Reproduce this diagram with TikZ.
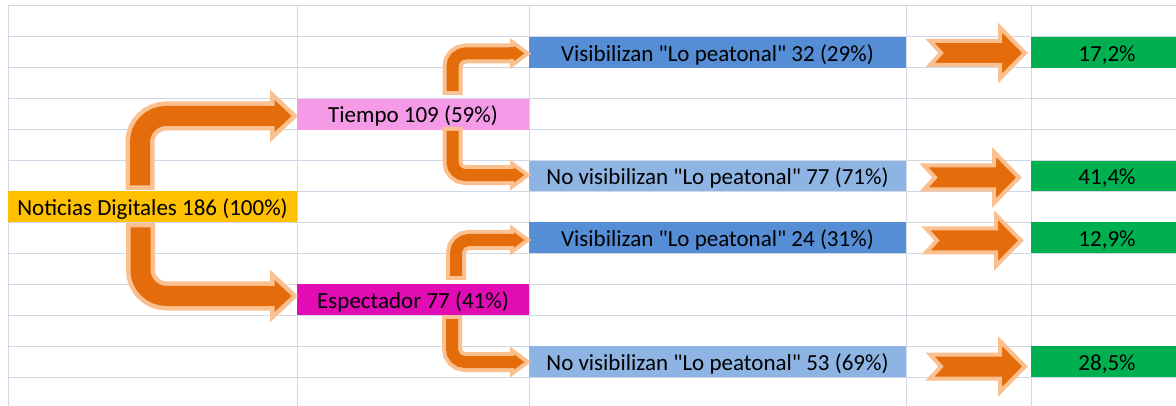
\documentclass[tikz,border=0pt]{standalone}
\usepackage{fontspec}
\setmainfont{Carlito}[Ligatures=TeXOff]
\usetikzlibrary{calc}
\definecolor{gridc}{HTML}{D0D7E5}
\definecolor{cyellow}{HTML}{FFC000}
\definecolor{cpink}{HTML}{F49AE6}
\definecolor{cmag}{HTML}{E20CB4}
\definecolor{cblue}{HTML}{558ED5}
\definecolor{clblue}{HTML}{8DB4E2}
\definecolor{cgreen}{HTML}{00B050}
\definecolor{alight}{HTML}{FAC090}
\definecolor{aorange}{HTML}{E46C0A}
\tikzset{
  gridl/.style={draw=gridc, line width=1pt},
  cell/.style={rectangle, inner sep=0pt, outer sep=0pt, minimum height=30.9pt, anchor=north west, draw=none},
  txt/.style={anchor=base, inner sep=0pt, font=\fontsize{23}{27}\selectfont, text=black},
  bigL/.style={draw=alight, line width=29pt, rounded corners=26pt},
  bigO/.style={draw=aorange, line width=20pt, rounded corners=26pt},
  smlL/.style={draw=alight, line width=20pt, rounded corners=13pt},
  smlO/.style={draw=aorange, line width=12pt, rounded corners=13pt},
  bighead/.pic={
    \filldraw[fill=alight, draw=alight, line width=9pt, line join=miter] (-23.5,-16) -- (-6.5,0) -- (-23.5,16) -- cycle;
    \fill[aorange] (-23.5,-16) -- (-6.5,0) -- (-23.5,16) -- cycle;
    \fill[aorange] (-29,-10) rectangle (-22,10);
  },
  smallhead/.pic={
    \filldraw[fill=alight, draw=alight, line width=8pt, line join=miter] (-17,-7.6) -- (-6.7,0) -- (-17,7.6) -- cycle;
    \fill[aorange] (-17,-7.6) -- (-6.7,0) -- (-17,7.6) -- cycle;
    \fill[aorange] (-22,-6) rectangle (-16,6);
  },
  notched/.pic={
    \filldraw[fill=aorange, draw=alight, line width=4pt, line join=miter]
      (-95,-12) -- (-25,-12) -- (-25,-25.5) -- (0,0) -- (-25,25.5) -- (-25,12) -- (-95,12) -- (-84,0) -- cycle;
  }
}
\begin{document}
\begin{tikzpicture}[x=1pt,y=-1pt]
\useasboundingbox (0,0) rectangle (1176,406);
\fill[white] (0,0) rectangle (1176,406);
% grid
\foreach \k in {0,...,12} \draw[gridl] (8,{6+30.92*\k}) -- (1176,{6+30.92*\k});
\foreach \xx in {8,297,529,906,1031} \draw[gridl] (\xx,6) -- (\xx,406);
% cells
\node[cell, fill=cyellow, minimum width=289pt] (noticias) at (8,191.5) {};
\node[cell, fill=cpink, minimum width=232pt] (tiempo) at (297,98.8) {};
\node[cell, fill=cmag, minimum width=232pt] (espect) at (297,284.3) {};
\node[cell, fill=cblue, minimum width=377pt] (vis1) at (529,36.9) {};
\node[cell, fill=clblue, minimum width=377pt] (novis1) at (529,160.6) {};
\node[cell, fill=cblue, minimum width=377pt] (vis2) at (529,222.4) {};
\node[cell, fill=clblue, minimum width=377pt] (novis2) at (529,346.1) {};
\node[cell, fill=cgreen, minimum width=145pt] (g1) at (1031,36.9) {};
\node[cell, fill=cgreen, minimum width=145pt] (g2) at (1031,160.6) {};
\node[cell, fill=cgreen, minimum width=145pt] (g3) at (1031,222.4) {};
\node[cell, fill=cgreen, minimum width=145pt] (g4) at (1031,346.1) {};
% texts
\node[txt] (tnot) at ($(noticias.south)+(0,-7)$) {Noticias Digitales 186 (100\%)};
\node[txt] (ttie) at ($(tiempo.south)+(0,-7)$) {Tiempo 109 (59\%)};
\node[txt] (tesp) at ($(espect.south)+(0,-7)$) {Espectador 77 (41\%)};
\node[txt] (tv1) at ($(vis1.south)+(0,-6.5)$) {Visibilizan "Lo peatonal" 32 (29\%)};
\node[txt] (tn1) at ($(novis1.south)+(0,-6.5)$) {No visibilizan "Lo peatonal" 77 (71\%)};
\node[txt] (tv2) at ($(vis2.south)+(0,-6.5)$) {Visibilizan "Lo peatonal" 24 (31\%)};
\node[txt] (tn2) at ($(novis2.south)+(0,-6.5)$) {No visibilizan "Lo peatonal" 53 (69\%)};
\node[txt] (tg1) at ($(g1.south west)+(76,-6.5)$) {17,2\%};
\node[txt] (tg2) at ($(g2.south west)+(76,-6.5)$) {41,4\%};
\node[txt] (tg3) at ($(g3.south west)+(76,-6.5)$) {12,9\%};
\node[txt] (tg4) at ($(g4.south west)+(76,-6.5)$) {28,5\%};
% big bent arrows
\coordinate (aTail) at ($(noticias.north)+(-12.5,-1.5)$);
\coordinate (aTip) at ($(tiempo.west)+(1,1.75)$);
\draw[bigL] (aTail) |- ($(aTip)+(-24,0)$);
\draw[bigO] ($(aTail)+(0,-4.5)$) |- ($(aTip)+(-22,0)$);
\pic at (aTip) {bighead};
\coordinate (bTail) at ($(noticias.south)+(-12,0.6)$);
\coordinate (bTip) at ($(espect.west)+(1,-3.75)$);
\draw[bigL] (bTail) |- ($(bTip)+(-24,0)$);
\draw[bigO] ($(bTail)+(0,4.5)$) |- ($(bTip)+(-22,0)$);
\pic at (bTip) {bighead};
% small bent arrows
\coordinate (s1Tail) at ($(tiempo.north)+(39.5,-3.8)$);
\coordinate (s1Tip) at ($(vis1.west)+(2,1.15)$);
\draw[smlL] (s1Tail) |- ($(s1Tip)+(-18,0)$);
\draw[smlO] ($(s1Tail)+(0,-4)$) |- ($(s1Tip)+(-16,0)$);
\pic at (s1Tip) {smallhead};
\coordinate (s2Tail) at ($(tiempo.south)+(39.5,-2.7)$);
\coordinate (s2Tip) at ($(novis1.west)+(2,-1)$);
\draw[smlL] (s2Tail) |- ($(s2Tip)+(-18,0)$);
\draw[smlO] ($(s2Tail)+(0,4)$) |- ($(s2Tip)+(-16,0)$);
\pic at (s2Tip) {smallhead};
\coordinate (s3Tail) at ($(espect.north)+(43,-4.3)$);
\coordinate (s3Tip) at ($(vis2.west)+(2,2.15)$);
\draw[smlL] (s3Tail) |- ($(s3Tip)+(-18,0)$);
\draw[smlO] ($(s3Tail)+(0,-4)$) |- ($(s3Tip)+(-16,0)$);
\pic at (s3Tip) {smallhead};
\coordinate (s4Tail) at ($(espect.south)+(39,-0.2)$);
\coordinate (s4Tip) at ($(novis2.west)+(2,0.45)$);
\draw[smlL] (s4Tail) |- ($(s4Tip)+(-18,0)$);
\draw[smlO] ($(s4Tail)+(0,4)$) |- ($(s4Tip)+(-16,0)$);
\pic at (s4Tip) {smallhead};
% notched arrows
\coordinate (n1Tip) at ($(g1.west)+(-6,0.65)$);
\coordinate (n2Tip) at ($(g2.west)+(-12,1.45)$);
\coordinate (n3Tip) at ($(g3.west)+(-10,2.65)$);
\coordinate (n4Tip) at ($(g4.west)+(-6,4.95)$);
\pic at (n1Tip) {notched};
\pic at (n2Tip) {notched};
\pic at (n3Tip) {notched};
\pic at (n4Tip) {notched};
\end{tikzpicture}
\end{document}
